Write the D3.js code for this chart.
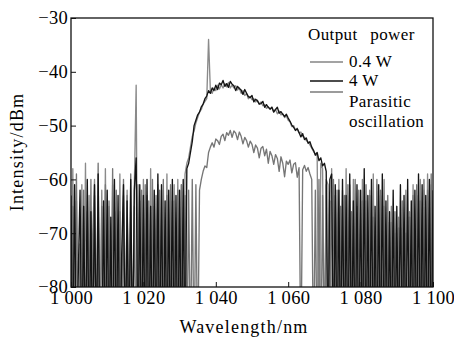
<!DOCTYPE html>
<html lang="en">
<head>
<meta charset="UTF-8">
<title>Spectrum</title>
<script src="https://cdn.jsdelivr.net/npm/d3@7"></script>
<style>
  body { margin: 0; background: #fff; }
  text { font-family: 'Liberation Serif', 'Times New Roman', serif; fill: #000; }
  .axis text { font-size: 18.5px; letter-spacing: 0.3px; }
  .axis line { stroke: #111; stroke-width: 1px; }
  .axis path { display: none; }
  .title { font-size: 18px; letter-spacing: 1.2px; }
  .legend text { font-size: 17px; letter-spacing: 0.4px; }
  .legend .head { word-spacing: 8px; }
  .spec { fill: none; stroke-width: 1.35px; stroke-linejoin: round; }
</style>
</head>
<body>
<div class="container"></div>
<script>
// spectra sampled every 0.5 nm from 1000 nm (one row = 5 nm); -95 = below the floor
var wlStart = 1000, wlStep = 0.5;

var p4W = [
  -63,-95,-61,-95,-78,-62,-95,-65,-95,-60,
  -95,-66,-95,-61,-95,-59,-95,-95,-64,-95,
  -62,-95,-67,-95,-60,-95,-63,-95,-74,-61,
  -95,-64,-95,-60,-95,-62,-56,-95,-61,-95,
  -63,-95,-60,-95,-65,-95,-62,-95,-59,-95,
  -61,-95,-64,-95,-62,-95,-60,-95,-63,-95,
  -62,-95,-60,-95,-58,-57,-55,-53,-50,-49,
  -48,-47.5,-46.5,-46,-45,-44.5,-43.5,-44,-43,-43.5,
  -42.5,-43.3,-42.1,-42.4,-41.6,-42.7,-42.2,-42.9,-41.8,-42.3,
  -42.6,-43.5,-42.7,-43.1,-43.4,-44.2,-43.3,-44,-44.6,-44.8,
  -44.4,-45.6,-45.1,-45.4,-46,-45.9,-45.5,-46.6,-46.1,-46.6,
  -46.9,-46.6,-47.5,-47,-46.6,-47.7,-47.4,-47.9,-48.3,-47.9,
  -48.6,-49.2,-49.9,-50.3,-50.9,-50.6,-51.3,-52.1,-51.5,-52.6,
  -52.3,-53.3,-53,-54,-54.6,-55.5,-55,-56.5,-56,-57.5,
  -57,-58.5,-95,-60,-59,-95,-61,-95,-62,-95,
  -60,-95,-63,-95,-59,-95,-64,-95,-61,-95,
  -62,-95,-58,-95,-63,-95,-60,-95,-65,-95,
  -61,-95,-59,-95,-64,-95,-66,-95,-62,-95,
  -65,-95,-61,-95,-63,-95,-60,-95,-64,-95,
  -62,-95,-59,-95,-61,-95,-63,-95,-60,-95,
  -62
];

var pParasitic = [
  -95,-58,-95,-64,-95,-95,-61,-95,-57,-95,
  -63,-95,-70,-60,-95,-64,-95,-62,-95,-58,
  -95,-65,-95,-61,-95,-66,-95,-59,-95,-63,
  -95,-62,-95,-66,-95,-61,-42.5,-95,-64,-95,
  -60,-95,-63,-95,-58,-95,-65,-95,-61,-95,
  -95,-62,-95,-59,-95,-64,-95,-61,-95,-60,
  -95,-61,-95,-59,-57,-56,-54,-52,-51,-49.5,
  -48.5,-47.5,-47,-46,-45.5,-45,-34,-43.5,-44,-43,
  -43.5,-42.5,-43.2,-42.4,-43,-42.2,-42.8,-42,-43,-42.5,
  -43,-42.6,-43.4,-43,-44,-43.5,-44.4,-44,-45,-44.6,
  -45.2,-45,-45.6,-45.3,-46,-45.6,-46.3,-46.1,-46.8,-46.5,
  -47,-46.6,-47.4,-47,-47.8,-47.3,-48,-47.8,-48.5,-48.2,
  -49,-49.3,-50.2,-50,-50.8,-50.5,-51.4,-51.2,-52,-52.2,
  -52.8,-53,-53.6,-54.2,-54.8,-55.3,-55.6,-95,-57,-58,
  -95,-60,-61,-95,-58,-95,-63,-95,-60,-95,
  -62,-95,-58,-95,-61,-95,-60,-95,-65,-95,
  -95,-60,-95,-64,-95,-62,-95,-59,-95,-61,
  -95,-63,-95,-60,-95,-68,-95,-65,-95,-70,
  -95,-67,-95,-69,-95,-62,-95,-66,-95,-61,
  -95,-63,-95,-60,-95,-62,-95,-59,-95,-61,
  -95
];

var p04W = [
  -95,-65,-95,-59,-95,-72,-95,-62,-95,-66,
  -95,-60,-95,-63,-95,-57,-95,-65,-95,-61,
  -95,-64,-95,-58,-95,-62,-95,-66,-95,-60,
  -95,-63,-95,-59,-95,-65,-95,-61,-95,-62,
  -95,-61,-95,-64,-95,-60,-95,-63,-95,-62,
  -95,-60,-95,-63,-95,-61,-95,-64,-95,-62,
  -95,-61,-95,-63,-95,-62,-95,-60,-95,-61,
  -95,-62,-60,-58.5,-57.5,-57.8,-55,-54,-53.2,-54,
  -52.5,-52.8,-53.5,-52,-51.6,-52.8,-51.3,-51.8,-50.9,-52.2,
  -51,-51.4,-52.6,-51.2,-52,-53.4,-52.2,-52.8,-54,-52.9,
  -53.5,-55,-53.6,-54.2,-56,-54.2,-53.9,-55.6,-54.4,-57,
  -54.8,-55.6,-57.2,-55.4,-56.1,-58.5,-55.8,-57,-59.5,-56.6,
  -57.2,-56.4,-58.8,-57.2,-56.9,-59.6,-57.8,-95,-58.2,-57.4,
  -58.5,-57.8,-59,-60,-95,-62,-95,-60,-95,-63,
  -95,-61,-95,-64,-95,-60,-95,-62,-95,-65,
  -95,-63,-95,-61,-95,-66,-95,-60,-95,-62,
  -95,-64,-95,-61,-95,-63,-95,-67,-95,-60,
  -95,-62,-95,-65,-95,-63,-95,-68,-95,-66,
  -95,-69,-95,-64,-95,-70,-95,-67,-95,-63,
  -95,-61,-95,-64,-95,-60,-95,-62,-95,-59,
  -95
];

var xTicks = [1000, 1020, 1040, 1060, 1080, 1100];
var yTicks = [-80, -70, -60, -50, -40, -30];
var legendTitle = "Output power";
var legendNames = ["0.4 W", "4 W", "Parasitic"];
var legendColors = ["#858585", "#111111", "#7a7a7a"];

var margin = {top: 18, left: 71, right: 21, bottom: 51};
var svgWidth = 454, svgHeight = 338;
var width = svgWidth - margin.left - margin.right;
var height = svgHeight - margin.top - margin.bottom;

var svg = d3.select('.container').append('svg')
  .attr('width', svgWidth).attr('height', svgHeight);
var g = svg.append('g').attr('transform', `translate(${margin.left},${margin.top})`);

var x = d3.scaleLinear().domain([1000, 1100]).range([0, width]);
var y = d3.scaleLinear().domain([-80, -30]).range([height, 0]);

g.append('clipPath').attr('id', 'plot')
  .append('rect').attr('width', width).attr('height', height);

var line = d3.line()
  .x((d, i) => x(wlStart + i * wlStep))
  .y(d => y(d));

var series = [
  {data: pParasitic, color: "#8a8a8a"},
  {data: p04W, color: "#767676"},
  {data: p4W, color: "#141414"}
];
g.append('g').attr('clip-path', 'url(#plot)')
  .selectAll('path').data(series).enter().append('path')
  .attr('class', 'spec')
  .attr('d', d => line(d.data))
  .style('stroke', d => d.color);

var xAxis = d3.axisBottom(x).tickValues(xTicks).tickSize(-5).tickPadding(4)
  .tickFormat(d => d3.format(",")(d).replace(",", " "));
var yAxis = d3.axisLeft(y).tickValues(yTicks).tickSize(-5).tickPadding(3)
  .tickFormat(d3.format(""));

g.append('g').attr('class', 'axis')
  .attr('transform', `translate(0,${height})`).call(xAxis);
g.append('g').attr('class', 'axis').call(yAxis);

g.append('rect').attr('width', width).attr('height', height)
  .style('fill', 'none').style('stroke', '#111').style('stroke-width', 1.3);

svg.append('text').attr('class', 'title')
  .attr('x', 244).attr('y', 333)
  .style('text-anchor', 'middle').text('Wavelength/nm');
svg.append('text').attr('class', 'title')
  .attr('transform', 'translate(23,152) rotate(-90)')
  .style('text-anchor', 'middle').text('Intensity/dBm');

// legend
var legend = svg.append('g').attr('class', 'legend');
legend.append('text').attr('class', 'head').attr('x', 308).attr('y', 40).text(legendTitle);
var lineY = [62, 81, 92];
var textY = [67, 86, 107];
legendNames.forEach((name, i) => {
  legend.append('line').attr('x1', 310).attr('x2', 343)
    .attr('y1', lineY[i]).attr('y2', lineY[i])
    .style('stroke', legendColors[i]).style('stroke-width', 1.5);
  legend.append('text').attr('x', 349).attr('y', textY[i]).text(name);
});
legend.append('text').attr('x', 349).attr('y', 127).text('oscillation');
</script>
</body>
</html>
